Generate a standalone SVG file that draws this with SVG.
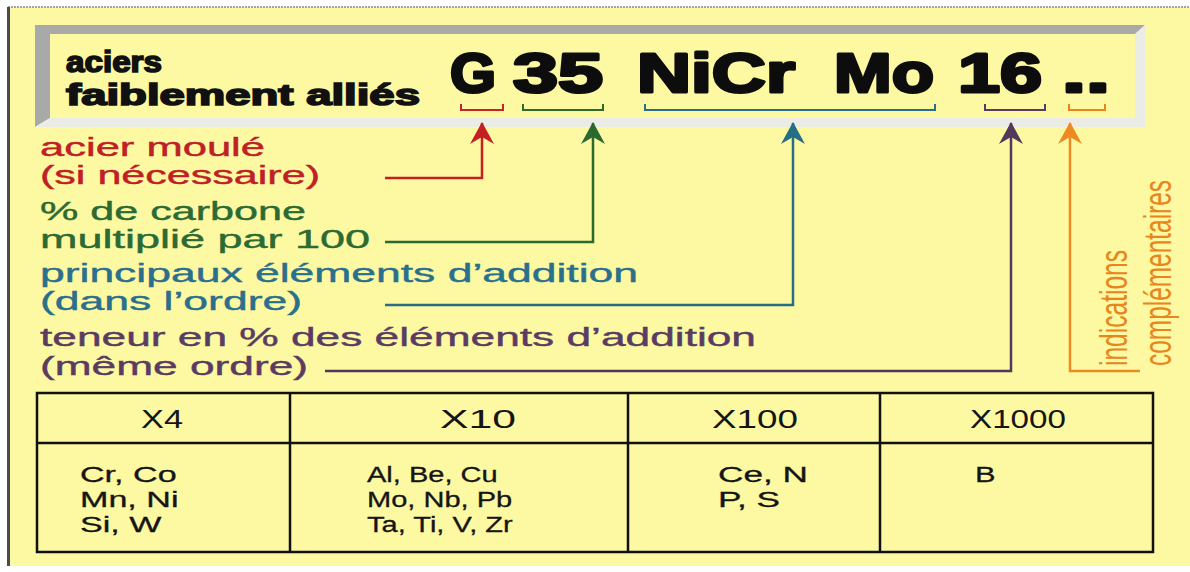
<svg xmlns="http://www.w3.org/2000/svg" width="1190" height="572" viewBox="0 0 1190 572">
<style>
.lbl{font-family:"Liberation Sans",Arial,sans-serif;font-size:25px;stroke-width:0.4}
.ttl{font-family:"Liberation Sans",Arial,sans-serif;font-size:29px;font-weight:bold;fill:#111;stroke:#111;stroke-width:1.6}
.big{font-family:"Liberation Sans",Arial,sans-serif;font-size:56px;font-weight:bold;fill:#0d0d0d;stroke:#0d0d0d;stroke-width:3;stroke-linejoin:round}
.tbl{font-family:"Liberation Sans",Arial,sans-serif;font-size:22px;fill:#151515;stroke:#151515;stroke-width:0.3}
.hdr{font-family:"Liberation Sans",Arial,sans-serif;font-size:26px;fill:#151515}
.rot{font-family:"Liberation Sans",Arial,sans-serif;font-size:38px;fill:#e8861c}
.red{fill:#bf2026;stroke:#bf2026}.grn{fill:#2c6a33;stroke:#2c6a33}.blu{fill:#2a6f8c;stroke:#2a6f8c}.pur{fill:#5a3c62;stroke:#5a3c62}
.conn{fill:none;stroke-width:2.5}
.brk{fill:none;stroke-width:2}
.grid{stroke:#111;stroke-width:2.5;fill:none}
</style>
<defs>
<marker id="aR" markerUnits="userSpaceOnUse" viewBox="0 0 22 24" markerWidth="22" markerHeight="24" refX="21" refY="12" orient="auto"><path d="M0,0 L22,12 L0,24 L7,12 Z" fill="#c41f22"/></marker>
<marker id="aG" markerUnits="userSpaceOnUse" viewBox="0 0 22 24" markerWidth="22" markerHeight="24" refX="21" refY="12" orient="auto"><path d="M0,0 L22,12 L0,24 L7,12 Z" fill="#2a6a2e"/></marker>
<marker id="aB" markerUnits="userSpaceOnUse" viewBox="0 0 22 24" markerWidth="22" markerHeight="24" refX="21" refY="12" orient="auto"><path d="M0,0 L22,12 L0,24 L7,12 Z" fill="#256e86"/></marker>
<marker id="aP" markerUnits="userSpaceOnUse" viewBox="0 0 22 24" markerWidth="22" markerHeight="24" refX="21" refY="12" orient="auto"><path d="M0,0 L22,12 L0,24 L7,12 Z" fill="#54375c"/></marker>
<marker id="aO" markerUnits="userSpaceOnUse" viewBox="0 0 22 24" markerWidth="22" markerHeight="24" refX="21" refY="12" orient="auto"><path d="M0,0 L22,12 L0,24 L7,12 Z" fill="#ee8a22"/></marker>
</defs>
<rect width="1190" height="572" fill="#ffffff"/>
<rect x="8" y="7" width="1182" height="559" fill="#fcf9a2"/>
<line x1="8" y1="7" x2="1190" y2="7" stroke="#8a8a8a" stroke-width="1.5" stroke-dasharray="2 1"/>
<line x1="8.5" y1="7" x2="8.5" y2="566" stroke="#4a4a4a" stroke-width="3"/>

<g id="title-frame">
<polygon points="35,25 1145,25 1135,34 50,34 50,118 35,127" fill="#a9a9a9"/>
<polygon points="1145,25 1145,127 35,127 50,118 1135,118 1135,34" fill="#ececE6"/>
<text class="ttl" x="66" y="72" textLength="96" lengthAdjust="spacingAndGlyphs">aciers</text>
<text class="ttl" x="66" y="105" textLength="354" lengthAdjust="spacingAndGlyphs">faiblement alliés</text>
</g>

<g id="designation">
<text class="big" x="450" y="92" textLength="46" lengthAdjust="spacingAndGlyphs">G</text>
<text class="big" x="513" y="92" textLength="90" lengthAdjust="spacingAndGlyphs">35</text>
<text class="big" x="637" y="92" textLength="158" lengthAdjust="spacingAndGlyphs">NiCr</text>
<text class="big" x="834" y="92" textLength="100" lengthAdjust="spacingAndGlyphs">Mo</text>
<text class="big" x="958" y="92" textLength="84" lengthAdjust="spacingAndGlyphs">16</text>
<text class="big" x="1062" y="92" textLength="48" lengthAdjust="spacingAndGlyphs">..</text>
</g>

<g id="brackets">
<path class="brk" stroke="#c0262a" d="M461,104 V110 H503 V104"/>
<path class="brk" stroke="#2f6a2c" d="M523,104 V110 H603 V104"/>
<path class="brk" stroke="#2a6f8a" d="M645,104 V110 H935 V104"/>
<path class="brk" stroke="#5a3a60" d="M985,104 V110 H1045 V104"/>
<path class="brk" stroke="#e8861c" d="M1069,104 V110 H1105 V104"/>
</g>

<g id="connectors">
<path class="conn" stroke="#c41f22" d="M385,178 H482 V123" marker-end="url(#aR)"/>
<path class="conn" stroke="#2a6a2e" d="M385,242 H593 V123" marker-end="url(#aG)"/>
<path class="conn" stroke="#256e86" d="M385,305 H793 V123" marker-end="url(#aB)"/>
<path class="conn" stroke="#54375c" d="M325,371 H1011 V123" marker-end="url(#aP)"/>
<path class="conn" stroke="#ee8a22" d="M1140,371 H1070 V123" marker-end="url(#aO)"/>
</g>

<g id="label-moule">
<text class="lbl red" x="40" y="156" textLength="225" lengthAdjust="spacingAndGlyphs">acier moulé</text>
<text class="lbl red" x="40" y="184" textLength="280" lengthAdjust="spacingAndGlyphs">(si nécessaire)</text>
</g>
<g id="label-carbone">
<text class="lbl grn" x="40" y="220" textLength="266" lengthAdjust="spacingAndGlyphs">% de carbone</text>
<text class="lbl grn" x="40" y="248" textLength="330" lengthAdjust="spacingAndGlyphs">multiplié par 100</text>
</g>
<g id="label-elements">
<text class="lbl blu" x="40" y="282" textLength="598" lengthAdjust="spacingAndGlyphs">principaux éléments d’addition</text>
<text class="lbl blu" x="40" y="310" textLength="262" lengthAdjust="spacingAndGlyphs">(dans l’ordre)</text>
</g>
<g id="label-teneur">
<text class="lbl pur" x="40" y="346" textLength="716" lengthAdjust="spacingAndGlyphs">teneur en % des éléments d’addition</text>
<text class="lbl pur" x="40" y="375" textLength="268" lengthAdjust="spacingAndGlyphs">(même ordre)</text>
</g>
<g id="label-indications">
<text class="rot" transform="translate(1127,366) rotate(-90)" textLength="116" lengthAdjust="spacingAndGlyphs">indications</text>
<text class="rot" transform="translate(1171,366) rotate(-90)" textLength="186" lengthAdjust="spacingAndGlyphs">complémentaires</text>
</g>

<g id="table">
<rect class="grid" x="37" y="393" width="1116" height="159"/>
<line class="grid" x1="37" y1="443" x2="1153" y2="443"/>
<line class="grid" x1="290" y1="393" x2="290" y2="552"/>
<line class="grid" x1="628" y1="393" x2="628" y2="552"/>
<line class="grid" x1="880" y1="393" x2="880" y2="552"/>
<text class="hdr" x="141" y="428" textLength="42" lengthAdjust="spacingAndGlyphs">X4</text>
<text class="hdr" x="440" y="428" textLength="76" lengthAdjust="spacingAndGlyphs">X10</text>
<text class="hdr" x="712" y="428" textLength="86" lengthAdjust="spacingAndGlyphs">X100</text>
<text class="hdr" x="970" y="428" textLength="96" lengthAdjust="spacingAndGlyphs">X1000</text>
<text class="tbl" transform="translate(80,482) scale(1.55,1)"><tspan x="0" y="0">Cr, Co</tspan><tspan x="0" y="25">Mn, Ni</tspan><tspan x="0" y="50">Si, W</tspan></text>
<text class="tbl" transform="translate(367,482) scale(1.32,1)"><tspan x="0" y="0">Al, Be, Cu</tspan><tspan x="0" y="25">Mo, Nb, Pb</tspan><tspan x="0" y="50">Ta, Ti, V, Zr</tspan></text>
<text class="tbl" transform="translate(718,482) scale(1.6,1)"><tspan x="0" y="0">Ce, N</tspan><tspan x="0" y="25">P, S</tspan></text>
<text class="tbl" transform="translate(975,482) scale(1.4,1)">B</text>
</g>
</svg>
